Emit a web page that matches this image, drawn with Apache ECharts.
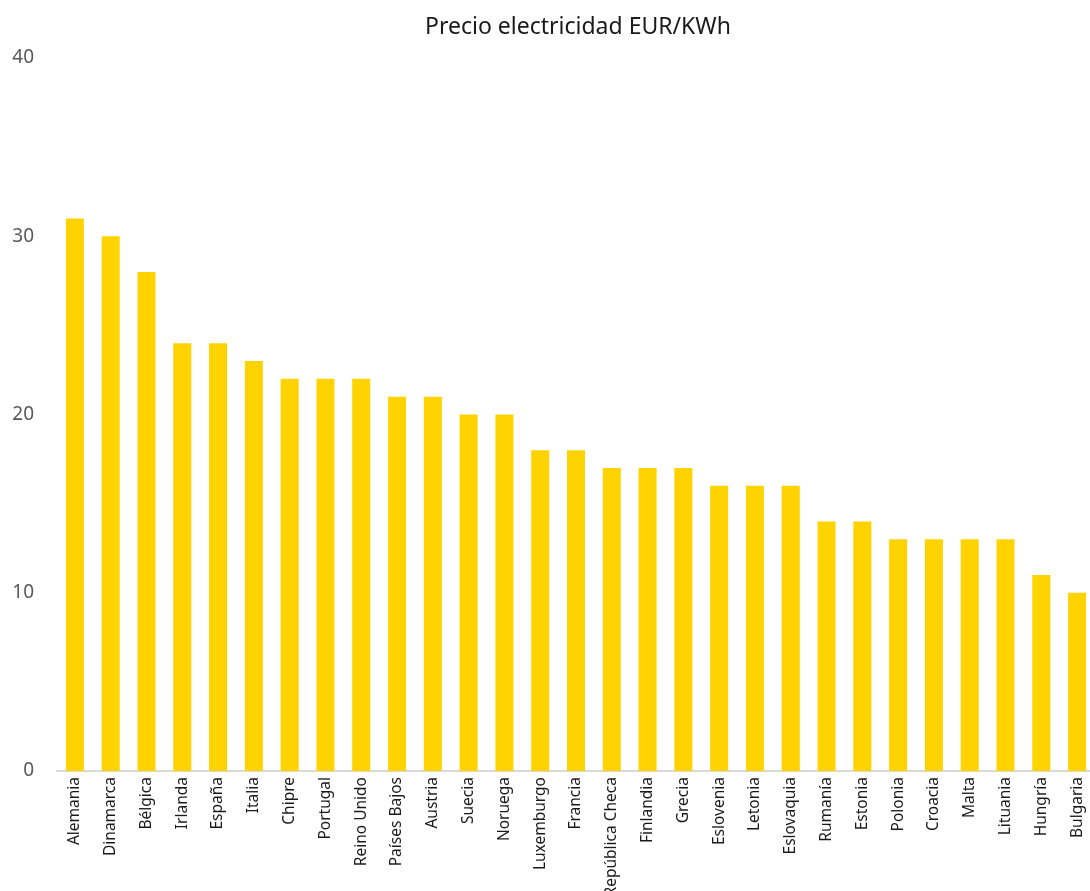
<!DOCTYPE html>
<html><head><meta charset="utf-8">
<script src="https://cdn.jsdelivr.net/npm/echarts@6/dist/echarts.min.js"></script>
<style>html,body{margin:0;padding:0;background:#fff;overflow:hidden}#c{width:1090px;height:891px}</style>
</head><body><div id="c"></div>
<script>
const categories = ["Alemania","Dinamarca","Bélgica","Irlanda","España","Italia","Chipre","Portugal","Reino Unido","Países Bajos","Austria","Suecia","Noruega","Luxemburgo","Francia","República Checa","Finlandia","Grecia","Eslovenia","Letonia","Eslovaquia","Rumanía","Estonia","Polonia","Croacia","Malta","Lituania","Hungría","Bulgaria"];
const values = [31,30,28,24,24,23,22,22,22,21,21,20,20,18,18,17,17,17,16,16,16,14,14,13,13,13,13,11,10];
const yTicks = [0,10,20,30,40];
const chart = echarts.init(document.getElementById('c'));
chart.setOption({
  animation:false,
  title:{text:'Precio electricidad EUR/KWh',left:573,top:11,textAlign:'center',
    textStyle:{fontFamily:'Noto Sans',fontSize:23,fontWeight:'normal',color:'#1a1a1a'}},
  grid:{left:57,right:-5,top:58,bottom:120,containLabel:false,outerBoundsMode:'none'},
  xAxis:{type:'category',data:categories,
    axisLine:{lineStyle:{color:'#d9d9d9',width:2}},
    axisTick:{show:false},
    axisLabel:{rotate:90,interval:0,margin:6,fontFamily:'Noto Sans',fontSize:15.5,color:'#1a1a1a'}},
  yAxis:{type:'value',min:yTicks[0],max:yTicks[yTicks.length-1],interval:10,
    splitLine:{show:false},axisLine:{show:false},axisTick:{show:false},
    axisLabel:{margin:23,fontFamily:'Noto Sans',fontSize:19,color:'#595959'}},
  series:[{type:'bar',data:values,barWidth:18,itemStyle:{color:'#FFD300'}}]
});
</script></body></html>
